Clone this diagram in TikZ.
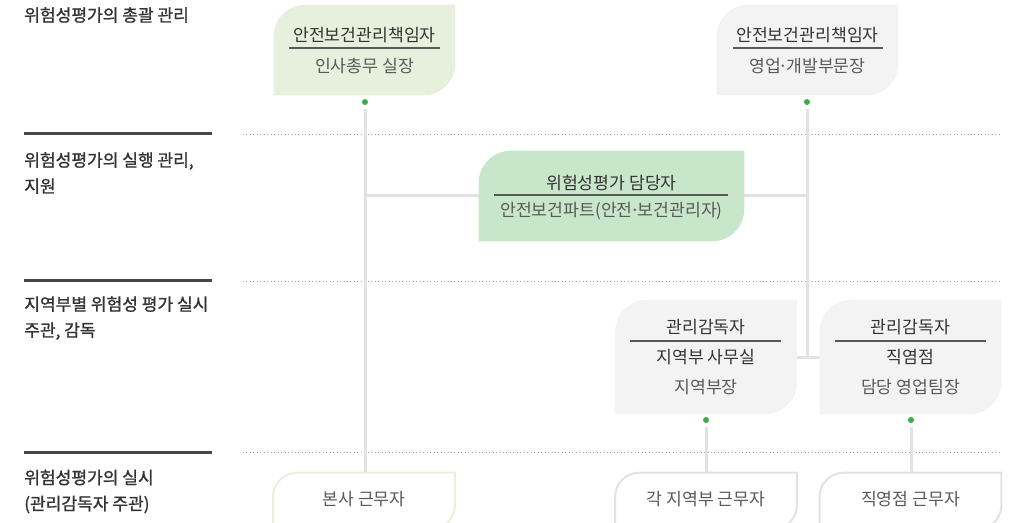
\documentclass[tikz,border=0pt]{standalone}
\usepackage{fontspec}
\setmainfont{Noto Sans CJK KR}
\newfontfamily\krmed{Noto Sans CJK KR}[FakeBold=1.2]
\usetikzlibrary{calc}

\definecolor{leafgreen}{HTML}{E7F0DC}
\definecolor{leafgray}{HTML}{F4F3F3}
\definecolor{midgreen}{HTML}{C8E6C9}
\definecolor{linkgray}{HTML}{E2E2E2}
\definecolor{dotgreen}{HTML}{3AAE49}
\definecolor{txtdark}{HTML}{333333}
\definecolor{txtsub}{HTML}{595959}

\newcommand{\mdot}{\makebox[0.3em]{·}}
% leaf shape: top left and bottom right corners rounded
\newcommand{\leafshape}[3]{%
  \path[#2] (#1.north east) -- ([yshift=#3]#1.south east)
     arc[start angle=0,end angle=-90,radius=#3] -- (#1.south west)
     -- ([yshift=-#3]#1.north west)
     arc[start angle=180,end angle=90,radius=#3] -- cycle;}

\begin{document}
\begin{tikzpicture}[x=0.75pt,y=-0.75pt,
   leaf/.style={inner sep=0pt,minimum width=136pt,minimum height=67.5pt},
   wideleaf/.style={leaf,minimum width=198.75pt},
   tallleaf/.style={leaf,minimum height=85.5pt},
   staffbox/.style={leaf,minimum height=42pt},
   dot/.style={circle,fill=dotgreen,inner sep=0pt,minimum size=4.5pt},
   link/.style={draw=linkgray,line width=2.25pt},
   head/.style={text=txtdark,font=\fontsize{12.9pt}{15pt}\selectfont,inner sep=0pt},
   sub/.style={text=txtsub,font=\fontsize{12.9pt}{15pt}\selectfont,inner sep=0pt},
   rule/.style={draw=txtsub,line width=1.1pt},
   side/.style={anchor=west,align=left,text=txtdark,inner sep=0pt,
      font=\krmed\fontsize{12.8pt}{19.5pt}\selectfont},
   sepline/.style={draw=black!72,line width=2.25pt},
   dotline/.style={draw=black!35,dotted,line width=0.6pt}]
\useasboundingbox (0,0) rectangle (1019,523);

% levels
\node[side] (lev1) at (24,15) {위험성평가의 총괄 관리};
\node[side] (lev2) at (24,173) {위험성평가의 실행 관리,\\지원};
\node[side] (lev3) at (24,318) {지역부별 위험성 평가 실시\\주관, 감독};
\node[side] (lev4) at (24,491.5) {위험성평가의 실시\\(관리감독자 주관)};
\foreach \y in {134,281,452}{
  \draw[sepline] (24,\y) -- (212,\y);
  \draw[dotline] (243,\y) -- (1002,\y);
}

% boxes
\node[leaf] (chief1) at (364.5,50) {};
\node[leaf] (chief2) at (807.5,50) {};
\node[wideleaf] (riskmgr) at (611.5,196) {};
\node[tallleaf] (super1) at (706,357) {};
\node[tallleaf] (super2) at (910.5,357) {};
\node[staffbox] (staff1) at (364,501) {};
\node[staffbox] (staff2) at (706,501) {};
\node[staffbox] (staff3) at (910.5,501) {};

\node[dot] (d1) at (365,102) {};
\node[dot] (d2) at (807,102) {};
\node[dot] (d3) at (706,420) {};
\node[dot] (d4) at (911,420) {};

% connectors
\draw[link] ([yshift=-3pt]d1.south) -- (d1 |- staff1.north);
\draw[link] ([yshift=-3pt]d2.south) -- (d2 |- super1.east);
\draw[link] (d1 |- riskmgr.east) -- (d2 |- riskmgr.east);
\draw[link] (super1.east) -- (super2.west);
\draw[link] ([yshift=-3pt]d3.south) -- (d3 |- staff2.north);
\draw[link] ([yshift=-3pt]d4.south) -- (d4 |- staff3.north);

\leafshape{chief1}{fill=leafgreen}{24pt}
\leafshape{chief2}{fill=leafgray}{24pt}
\leafshape{riskmgr}{fill=midgreen}{24pt}
\leafshape{super1}{fill=leafgray}{24pt}
\leafshape{super2}{fill=leafgray}{24pt}
\leafshape{staff1}{fill=white,draw=leafgreen,line width=1.5pt}{18pt}
\leafshape{staff2}{fill=white,draw=linkgray,line width=1.5pt}{18pt}
\leafshape{staff3}{fill=white,draw=linkgray,line width=1.5pt}{18pt}

% texts
\node[head] at (364.5,35) {안전보건관리책임자};
\draw[rule] (289,48) -- (440,48);
\node[sub] at (364.5,66) {인사총무 실장};

\node[head] at (807.5,35) {안전보건관리책임자};
\draw[rule] (733,48) -- (883,48);
\node[sub] at (807.5,66) {영업\mdot{}개발부문장};

\node[head] at (611.5,183) {위험성평가 담당자};
\draw[rule] (494,195) -- (728,195);
\node[sub] at (611.5,211) {안전보건파트(안전\mdot{}보건관리자)};

\node[head] at (706,327) {관리감독자};
\draw[rule] (630,341) -- (781,341);
\node[head] at (706,357) {지역부 사무실};
\node[sub] at (706,387) {지역부장};

\node[head] at (910.5,327) {관리감독자};
\draw[rule] (835,341) -- (986,341);
\node[head] at (910.5,357) {직염점};
\node[sub] at (910.5,387) {담당 영업팀장};

\node[sub] at (364,499) {본사 근무자};
\node[sub] at (706,499) {각 지역부 근무자};
\node[sub] at (910.5,499) {직영점 근무자};
\end{tikzpicture}
\end{document}
